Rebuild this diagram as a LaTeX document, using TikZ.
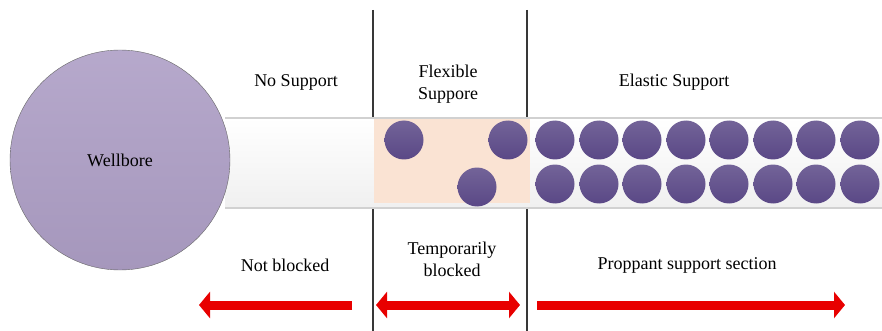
\documentclass[tikz,border=0pt]{standalone}
\usepackage{fontspec}
\setmainfont{Liberation Serif}
\usetikzlibrary{arrows.meta}
\definecolor{wellpurple}{HTML}{AE9FC6}
\definecolor{grainpurple}{HTML}{5A4886}
\definecolor{peach}{HTML}{FAE3D3}
\definecolor{arrowred}{HTML}{E80000}
\newcommand{\setup}{
    \coordinate (w0) at (120,160); % wellbore centre

    \coordinate (t0) at (225,118);
    \coordinate (t1) at (882,118);
    \coordinate (t2) at (225,208);
    \coordinate (t3) at (882,208);

    \coordinate (v0) at (373,10);
    \coordinate (v1) at (373,331);
    \coordinate (v2) at (527,10);
    \coordinate (v3) at (527,331);
}
\newcommand{\grain}[2]{
  \shade[top color=grainpurple!85!white,bottom color=grainpurple] (#1,#2) circle (19.5);
}
\tikzset{
  label/.style={font=\fontsize{18}{22}\selectfont,align=center,inner sep=0pt},
  divider/.style={line width=2.8pt,black!78},
  redarrow/.style={arrowred,line width=9pt,-{Triangle[length=11pt,width=26pt]}},
}

\begin{document}
\begin{tikzpicture}[x=1pt,y=-1pt]
          \useasboundingbox (0,0) rectangle (882,331);
          \setup;

          \draw[divider] (v0) -- (v1);
          \draw[divider] (v2) -- (v3);

          % fracture channel
          \shade[top color=white,bottom color=black!6] (t0) rectangle (t3);
          \fill[peach] (374,119) rectangle (530,203);
          \draw[black!18,line width=1.2pt] (t0) -- (t1);
          \draw[black!18,line width=1.2pt] (t2) -- (t3);

          % wellbore
          \shade[top color=wellpurple!90!white,bottom color=wellpurple!95!black,draw=black!60] (w0) circle (110);
          \node[label] (well) at (w0) {Wellbore};

          % proppant grains
          \grain{404}{140}
          \grain{508}{140}
          \grain{477}{187}
          \foreach \x in {555,599,642,686,729,773,816,860} {
            \grain{\x}{140}
            \grain{\x}{184}
          }

          \node[label] (nosup) at (296,82) {No Support};
          \node[label] (flex) at (448,84) {Flexible\\Suppore};
          \node[label] (elas) at (674,82) {Elastic Support};

          \node[label] (notb) at (285,265) {Not blocked};
          \node[label] (temp) at (452,259) {Temporarily\\blocked};
          \node[label] (prop) at (687,265) {Proppant support section};

          \coordinate (a0) at (352,305);
          \coordinate (a1) at (199,305);
          \coordinate (a2) at (376,305);
          \coordinate (a3) at (520,305);
          \coordinate (a4) at (537,305);
          \coordinate (a5) at (845,305);
          \draw[redarrow] (a0) -- (a1);
          \draw[redarrow,{Triangle[length=11pt,width=26pt]}-{Triangle[length=11pt,width=26pt]}] (a2) -- (a3);
          \draw[redarrow] (a4) -- (a5);
        \end{tikzpicture}
\end{document}
